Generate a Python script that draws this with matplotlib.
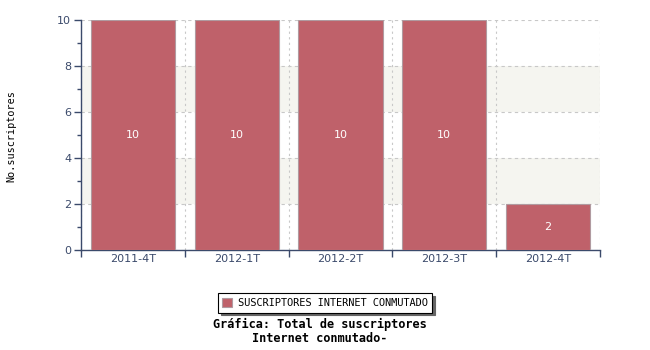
import matplotlib

matplotlib.use("Agg")
import matplotlib.pyplot as plt  # noqa: E402
import numpy as np  # noqa: E402

# data
periods = ["2011-4T", "2012-1T", "2012-2T", "2012-3T", "2012-4T"]
subscribers = [10, 10, 10, 10, 2]
series_name = "SUSCRIPTORES INTERNET CONMUTADO"

BAR = "#bf616a"
AXC = "#3b4a6b"
MONO = "DejaVu Sans Mono"

fig = plt.figure(figsize=(6.5, 3.5), dpi=100)
ax = fig.add_axes([81 / 650, 100 / 350, 519 / 650, 230 / 350])

x = np.arange(len(periods))
# alternating light bands
for lo in (2, 6):
    ax.axhspan(lo, lo + 2, color="#f5f5f0", zorder=0, lw=0)

bars = ax.bar(x, subscribers, 0.81, color=BAR, edgecolor="#b09aa0", lw=0.8, zorder=3)
for b, v in zip(bars, subscribers):
    ax.text(b.get_x() + b.get_width() / 2, v / 2, str(v), ha="center", va="center",
            color="white", fontsize=8, zorder=4)

ax.set_xlim(-0.5, len(periods) - 0.5)
ax.set_ylim(0, 10)
ax.set_xticks(x)
ax.set_xticklabels(periods)
ax.set_xticks(np.arange(-0.5, len(periods)), minor=True)
ax.set_yticks(np.arange(0, 11, 2))
ax.set_yticks(np.arange(1, 10, 2), minor=True)
ax.tick_params(axis="x", which="major", length=0, pad=3, labelsize=8, labelcolor=AXC)
ax.tick_params(axis="x", which="minor", length=5, color=AXC, width=1)
ax.tick_params(axis="y", which="major", length=5, color=AXC, width=1, labelsize=8, labelcolor=AXC, pad=2)
ax.tick_params(axis="y", which="minor", length=3, color=AXC, width=1)

ax.grid(axis="x", which="minor", ls=(0, (2, 3)), color="#c8c8c8", lw=0.8, zorder=1)
ax.grid(axis="y", which="major", ls=(0, (3, 3)), color="#c8c8c8", lw=0.8, zorder=1)
for s in ("top", "right"):
    ax.spines[s].set_visible(False)
for s in ("left", "bottom"):
    ax.spines[s].set_color(AXC)
    ax.spines[s].set_linewidth(1)

fig.text(11 / 650, 1 - 136 / 350, "No.suscriptores", rotation=90, ha="center", va="center",
         fontsize=7.3, family=MONO)

leg = fig.legend(bars[:1], [series_name], loc="center", bbox_to_anchor=(325 / 650, 1 - 303 / 350),
                 prop={"family": MONO, "size": 7.4}, frameon=True, fancybox=False,
                 shadow={"color": "#666666", "alpha": 1},
                 handlelength=0.9, handleheight=0.9, borderpad=0.45, handletextpad=0.6)
leg.get_frame().set_edgecolor("black")
leg.get_frame().set_linewidth(0.8)

fig.text(320 / 650, 1 - 331 / 350, "Gráfica: Total de suscriptores\nInternet conmutado-",
         ha="center", va="center", fontsize=8.6, family=MONO, weight="bold", linespacing=1.1)

fig.savefig("out.png", dpi=100)
plt.close(fig)
